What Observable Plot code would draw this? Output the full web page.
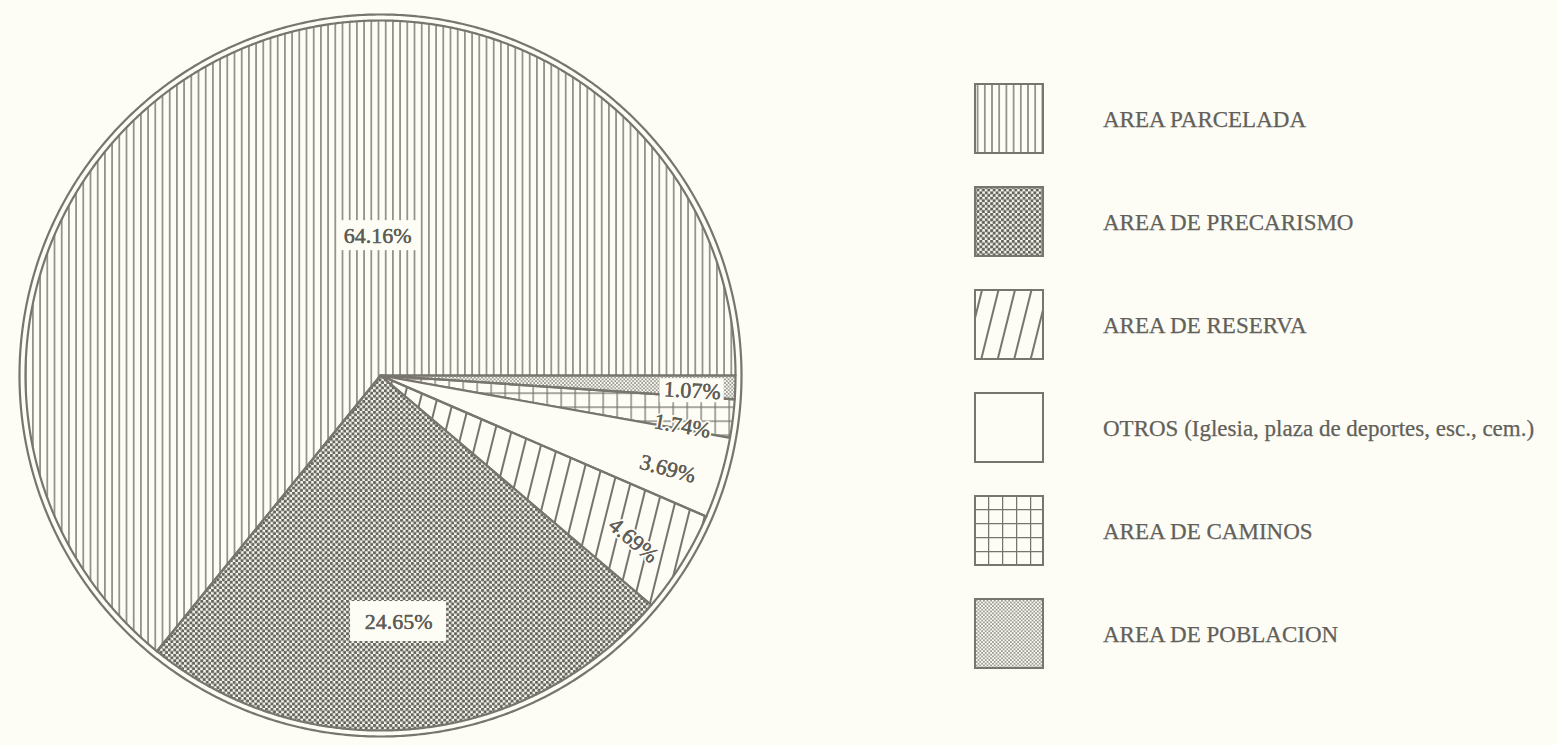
<!DOCTYPE html>
<html><head><meta charset="utf-8">
<script src="https://cdn.jsdelivr.net/npm/d3@7"></script>
<script src="https://cdn.jsdelivr.net/npm/@observablehq/plot@0.6"></script>
<style>
html,body{margin:0;padding:0;background:#fdfdf5;}
#root{position:relative;width:1557px;height:745px;overflow:hidden;font-family:"Liberation Serif",serif;color:#62605a;}
#pie{position:absolute;left:0;top:0;}
.sw{position:absolute;left:974px;width:70px;height:71px;}
.lt{position:absolute;left:1103px;font-size:23px;line-height:71px;white-space:nowrap;-webkit-text-stroke:0.25px #62605a;}
</style></head><body>
<svg width="0" height="0" style="position:absolute">
  <defs>
    <pattern id="p-parcelada" patternUnits="userSpaceOnUse" width="7.2" height="10">
      <line x1="3.6" y1="-1" x2="3.6" y2="11" stroke="#76746c" stroke-width="1.4"/>
    </pattern>
    <pattern id="p-precarismo" patternUnits="userSpaceOnUse" width="5.4" height="5.4">
      <rect width="5.4" height="5.4" fill="#fdfdf5"/>
      <circle cx="1.35" cy="1.35" r="1.7" fill="#66645e"/>
      <circle cx="4.05" cy="4.05" r="1.7" fill="#66645e"/>
    </pattern>
    <pattern id="p-reserva" patternUnits="userSpaceOnUse" width="16" height="16" patternTransform="rotate(14)">
      <line x1="8" y1="-1" x2="8" y2="17" stroke="#6f6d66" stroke-width="1.9"/>
    </pattern>
    <pattern id="p-caminos" patternUnits="userSpaceOnUse" width="14" height="14">
      <path d="M0 0.6H14M0.6 0V14" stroke="#76746c" stroke-width="1.3" fill="none"/>
    </pattern>
    <pattern id="p-poblacion" patternUnits="userSpaceOnUse" width="3.6" height="3.6">
      <rect width="3.6" height="3.6" fill="#fdfdf5"/>
      <circle cx="0.9" cy="0.9" r="0.9" fill="#7d7b74"/>
      <circle cx="2.7" cy="2.7" r="0.9" fill="#7d7b74"/>
    </pattern>
  </defs>
</svg>
<div id="root"><div id="pie"></div></div>
<script>
// ---- data ----
const categories = [
  "AREA PARCELADA",
  "AREA DE PRECARISMO",
  "AREA DE RESERVA",
  "OTROS (Iglesia, plaza de deportes, esc., cem.)",
  "AREA DE CAMINOS",
  "AREA DE POBLACION"
];
const values = [64.16, 24.65, 4.69, 3.69, 1.74, 1.07];
const valueLabels = ["64.16%", "24.65%", "4.69%", "3.69%", "1.74%", "1.07%"];

// ---- styling / layout ----
const fills = ["url(#p-parcelada)", "url(#p-precarismo)", "url(#p-reserva)", "#fdfdf5", "url(#p-caminos)", "url(#p-poblacion)"];
const labelAngle  = [358.8, 175.8, 123.1, 108, 99.5, 92.8];
const labelRadius = [0.394, 0.695, 0.851, 0.851, 0.862, 0.879];
const labelRotate = [0, 0, 40, 15, 10, 3];
const labelBox    = [[78, 30], [96, 40], [0, 0], [0, 0], [0, 0], [64, 24]];

const ink = "#77756d", textInk = "#5f5d57", bg = "#fdfdf5";
const PX = 355, W = 760, H = 745, CX = 380, CY = 375, R_OUT = 361 / 355;

// pie geometry from data (clockwise from 3 o'clock, reversed legend order)
const pieOrder = d3.range(categories.length).reverse();
const arcs = d3.pie().value(i => values[i]).sort(null)
  .startAngle(Math.PI / 2).endAngle(Math.PI / 2 + 2 * Math.PI)(pieOrder);
const slicePts = [];
for (const a of arcs) {
  const key = categories[a.data];
  slicePts.push({key, x: 0, y: 0});
  const n = Math.max(2, Math.ceil((a.endAngle - a.startAngle) / (Math.PI / 720)));
  for (let k = 0; k <= n; k++) {
    const t = a.startAngle + (a.endAngle - a.startAngle) * k / n;
    slicePts.push({key, x: Math.sin(t), y: Math.cos(t)});
  }
}
const ring = d3.range(0, 720).map(k => {
  const t = k / 720 * 2 * Math.PI;
  return {x: R_OUT * Math.sin(t), y: R_OUT * Math.cos(t)};
});
const labels = categories.map((c, i) => {
  const t = labelAngle[i] * Math.PI / 180;
  const x = labelRadius[i] * Math.sin(t), y = labelRadius[i] * Math.cos(t);
  const [bw, bh] = labelBox[i];
  return {text: valueLabels[i], x, y, rot: labelRotate[i],
          x1: x - bw / 2 / PX, x2: x + bw / 2 / PX, y1: y - bh / 2 / PX, y2: y + bh / 2 / PX, bw};
});

const chart = Plot.plot({
  width: W, height: H, margin: 0,
  x: {domain: [-CX / PX, (W - CX) / PX], axis: null},
  y: {domain: [-(H - CY) / PX, CY / PX], axis: null},
  color: {type: "ordinal", domain: categories, range: fills},
  style: {background: "transparent", overflow: "visible"},
  marks: [
    Plot.line(slicePts, {x: "x", y: "y", z: "key", fill: "key", stroke: ink, strokeWidth: 2.2,
      curve: "linear-closed", strokeLinejoin: "round"}),
    Plot.line(ring, {x: "x", y: "y", stroke: ink, strokeWidth: 2.2, curve: "linear-closed"}),
    Plot.rect(labels.filter(d => d.bw > 0), {x1: "x1", x2: "x2", y1: "y1", y2: "y2", fill: bg}),
    Plot.text(labels, {x: "x", y: "y", text: "text", rotate: "rot", fontSize: 22,
      fontFamily: "Liberation Serif, serif", fill: textInk, stroke: bg, strokeWidth: 4}),
    Plot.text(labels, {x: "x", y: "y", text: "text", rotate: "rot", fontSize: 22,
      fontFamily: "Liberation Serif, serif", fill: textInk, stroke: textInk, strokeWidth: 0.35})
  ]
});
document.getElementById("pie").appendChild(chart);

// legend
const root = document.getElementById("root");
categories.forEach((c, i) => {
  const top = 83 + i * 103;
  const sw = document.createElementNS("http://www.w3.org/2000/svg", "svg");
  sw.setAttribute("class", "sw");
  sw.setAttribute("width", 70); sw.setAttribute("height", 71);
  sw.style.top = top + "px";
  sw.innerHTML = `<rect x="1" y="1" width="68" height="69" fill="${fills[i]}" stroke="${ink}" stroke-width="2"/>`;
  root.appendChild(sw);
  const t = document.createElement("div");
  t.className = "lt";
  t.style.top = (top + 1) + "px";
  t.textContent = c;
  root.appendChild(t);
});
</script>
</body></html>
